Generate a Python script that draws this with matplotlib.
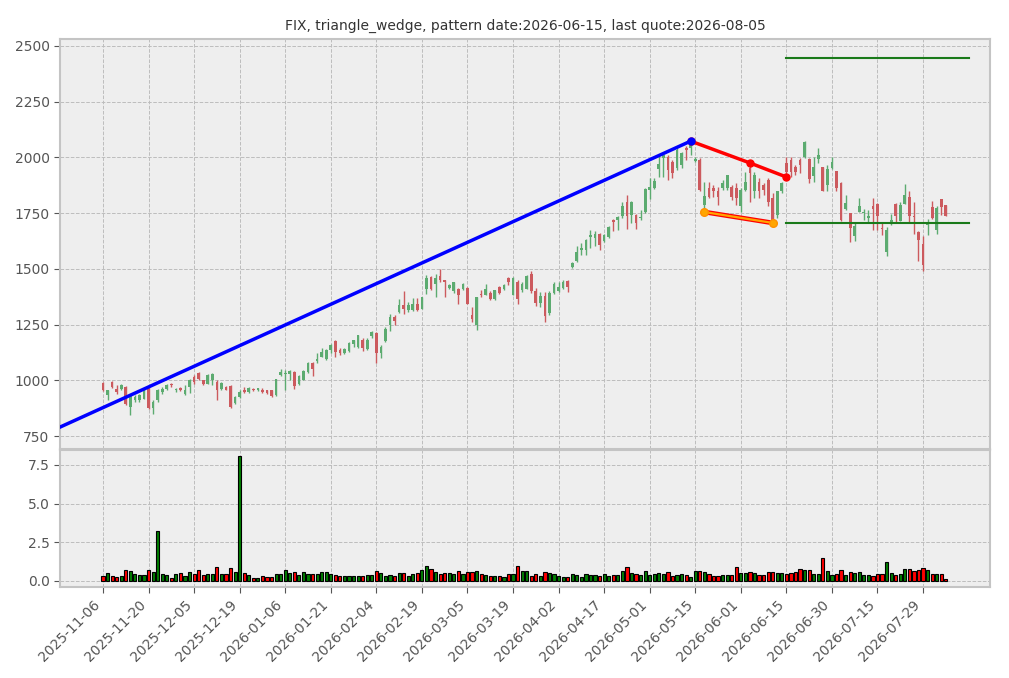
import matplotlib
matplotlib.use('Agg')
import matplotlib.pyplot as plt
import matplotlib.patheffects as pe

# ---------------- data ----------------
title = "FIX, triangle_wedge, pattern date:2026-06-15, last quote:2026-08-05"

opens = [990, 935, 993, 963, 963, 970, 881, 912, 912, 918,
         967, 874, 911, 948, 963, 985, 955, 966, 940, 970,
         1015, 1033, 1000, 985, 1000, 993, 963, 970, 973, 899,
         926, 958, 947, 963, 955, 958, 955, 955, 932, 1023,
         1030, 1027, 1038, 985, 1003, 1038, 1076, 1088, 1106, 1094,
         1136, 1177, 1136, 1121, 1133, 1164, 1151, 1182, 1139, 1197,
         1212, 1121, 1175, 1247, 1284, 1307, 1337, 1314, 1314, 1344,
         1321, 1411, 1463, 1430, 1466, 1448, 1414, 1399, 1411, 1411,
         1414, 1292, 1247, 1388, 1384, 1393, 1363, 1418, 1411, 1458,
         1384, 1443, 1403, 1411, 1478, 1400, 1345, 1380, 1300, 1390,
         1400, 1415, 1445, 1508, 1534, 1585, 1586, 1643, 1638, 1656,
         1624, 1643, 1720, 1717, 1735, 1802, 1743, 1743, 1728, 1753,
         1854, 1862, 1946, 1995, 2003, 1981, 1951, 1966, 2043, 2040,
         1985, 1988, 1787, 1862, 1862, 1847, 1862, 1862, 1869, 1862,
         1780, 1854, 1951, 1847, 1891, 1877, 1899, 1817, 1743, 1847,
         1975, 1988, 1958, 1988, 2003, 1991, 1917, 1994, 1955, 1876,
         1951, 1939, 1884, 1769, 1750, 1649, 1757, 1750, 1728, 1780,
         1792, 1683, 1574, 1706, 1790, 1713, 1792, 1822, 1739, 1664,
         1613, 1698, 1777, 1676, 1813, 1787]
highs = [993, 958, 997, 978, 982, 973, 933, 933, 940, 960,
         970, 911, 963, 970, 985, 988, 966, 970, 978, 1007,
         1022, 1037, 1003, 1030, 1033, 1000, 993, 975, 978, 930,
         955, 970, 970, 965, 967, 967, 958, 958, 1008, 1053,
         1045, 1045, 1040, 1023, 1045, 1083, 1083, 1124, 1144, 1139,
         1164, 1182, 1144, 1144, 1174, 1182, 1204, 1189, 1189, 1222,
         1215, 1159, 1237, 1299, 1292, 1366, 1399, 1351, 1370, 1370,
         1373, 1473, 1467, 1478, 1500, 1452, 1433, 1443, 1414, 1437,
         1418, 1329, 1374, 1403, 1433, 1399, 1407, 1421, 1433, 1463,
         1463, 1448, 1440, 1473, 1490, 1415, 1395, 1395, 1400, 1440,
         1440, 1448, 1450, 1530, 1601, 1616, 1634, 1676, 1668, 1661,
         1658, 1690, 1723, 1735, 1802, 1832, 1805, 1747, 1765, 1862,
         1906, 1906, 2010, 2015, 2010, 1988, 2040, 2025, 2050, 2077,
         2000, 1996, 1891, 1891, 1877, 1869, 1900, 1921, 1877, 1884,
         1862, 1936, 1975, 1936, 1906, 1884, 1906, 1840, 1847, 1891,
         2003, 2003, 1966, 1996, 2073, 1996, 2000, 2040, 1958, 1966,
         2003, 1939, 1891, 1832, 1750, 1706, 1817, 1769, 1765, 1820,
         1795, 1706, 1688, 1746, 1795, 1802, 1881, 1847, 1802, 1668,
         1649, 1723, 1806, 1780, 1813, 1787]
lows = [950, 910, 966, 940, 958, 888, 844, 905, 905, 915,
        870, 851, 903, 940, 955, 970, 948, 950, 933, 943,
        985, 1000, 978, 982, 978, 911, 958, 955, 878, 893,
        921, 942, 941, 952, 953, 942, 940, 927, 930, 1018,
        955, 1003, 962, 977, 1000, 1035, 1018, 1076, 1103, 1091,
        1121, 1106, 1114, 1118, 1129, 1151, 1144, 1133, 1136, 1189,
        1076, 1098, 1170, 1220, 1247, 1304, 1299, 1307, 1310, 1310,
        1321, 1388, 1404, 1374, 1443, 1374, 1411, 1393, 1344, 1404,
        1344, 1263, 1225, 1374, 1381, 1359, 1359, 1386, 1407, 1426,
        1381, 1344, 1396, 1408, 1392, 1335, 1330, 1262, 1292, 1385,
        1395, 1408, 1398, 1504, 1530, 1564, 1564, 1594, 1601, 1583,
        1619, 1638, 1668, 1676, 1728, 1679, 1705, 1679, 1720, 1750,
        1812, 1857, 1914, 1914, 1899, 1906, 1943, 1951, 1990, 2010,
        1978, 1847, 1755, 1817, 1824, 1787, 1855, 1855, 1810, 1787,
        1757, 1847, 1802, 1817, 1817, 1830, 1780, 1706, 1728, 1840,
        1912, 1914, 1921, 1929, 1998, 1887, 1891, 1973, 1847, 1847,
        1946, 1847, 1713, 1765, 1619, 1627, 1753, 1720, 1709, 1676,
        1676, 1650, 1557, 1696, 1710, 1713, 1792, 1706, 1657, 1534,
        1490, 1653, 1723, 1658, 1740, 1735]
closes = [957, 955, 972, 948, 978, 893, 929, 927, 933, 958,
          874, 903, 955, 963, 978, 978, 963, 958, 955, 1003,
          993, 1007, 985, 1025, 1030, 955, 988, 958, 881, 926,
          946, 947, 964, 955, 965, 947, 943, 929, 1005, 1038,
          1035, 1042, 974, 1020, 1042, 1079, 1053, 1094, 1129, 1136,
          1159, 1129, 1121, 1139, 1167, 1179, 1204, 1144, 1182, 1215,
          1121, 1151, 1230, 1284, 1266, 1339, 1322, 1337, 1341, 1314,
          1373, 1458, 1411, 1458, 1448, 1440, 1429, 1440, 1384, 1433,
          1344, 1277, 1374, 1384, 1411, 1366, 1403, 1391, 1429, 1443,
          1458, 1366, 1433, 1470, 1400, 1345, 1380, 1290, 1390, 1430,
          1420, 1440, 1420, 1527, 1576, 1595, 1631, 1653, 1656, 1609,
          1653, 1687, 1708, 1732, 1780, 1735, 1798, 1705, 1732, 1859,
          1869, 1896, 1970, 2010, 1943, 1929, 2033, 2018, 2033, 2062,
          1992, 1854, 1827, 1824, 1847, 1824, 1884, 1921, 1824, 1817,
          1854, 1891, 1929, 1921, 1847, 1854, 1802, 1713, 1847, 1884,
          1935, 1936, 1936, 1966, 2070, 1902, 1958, 2009, 1847, 1946,
          1981, 1862, 1717, 1794, 1683, 1691, 1783, 1757, 1739, 1769,
          1735, 1680, 1676, 1720, 1735, 1787, 1832, 1739, 1733, 1628,
          1519, 1708, 1728, 1772, 1777, 1738]
volumes = [0.32, 0.50, 0.32, 0.26, 0.32, 0.71, 0.65, 0.45, 0.39, 0.39,
           0.71, 0.58, 3.23, 0.45, 0.39, 0.19, 0.45, 0.52, 0.32, 0.58,
           0.45, 0.71, 0.39, 0.45, 0.45, 0.90, 0.45, 0.45, 0.84, 0.58,
           8.08, 0.50, 0.39, 0.19, 0.19, 0.32, 0.26, 0.26, 0.45, 0.45,
           0.71, 0.52, 0.58, 0.39, 0.58, 0.45, 0.45, 0.45, 0.58, 0.58,
           0.45, 0.39, 0.32, 0.32, 0.32, 0.32, 0.32, 0.32, 0.39, 0.39,
           0.65, 0.52, 0.32, 0.39, 0.32, 0.52, 0.52, 0.32, 0.45, 0.52,
           0.71, 0.97, 0.78, 0.58, 0.45, 0.52, 0.52, 0.45, 0.65, 0.45,
           0.58, 0.58, 0.65, 0.45, 0.39, 0.32, 0.32, 0.32, 0.26, 0.45,
           0.45, 0.97, 0.65, 0.65, 0.32, 0.45, 0.32, 0.58, 0.52, 0.45,
           0.32, 0.26, 0.26, 0.45, 0.39, 0.26, 0.45, 0.39, 0.39, 0.32,
           0.45, 0.32, 0.39, 0.39, 0.65, 0.90, 0.52, 0.45, 0.39, 0.65,
           0.39, 0.45, 0.52, 0.45, 0.58, 0.32, 0.39, 0.45, 0.39, 0.26,
           0.65, 0.65, 0.58, 0.45, 0.32, 0.32, 0.39, 0.39, 0.39, 0.90,
           0.52, 0.52, 0.58, 0.52, 0.39, 0.39, 0.58, 0.58, 0.52, 0.52,
           0.45, 0.52, 0.58, 0.78, 0.71, 0.71, 0.45, 0.45, 1.49, 0.65,
           0.39, 0.45, 0.71, 0.39, 0.58, 0.52, 0.58, 0.39, 0.39, 0.32,
           0.45, 0.45, 1.23, 0.52, 0.39, 0.45, 0.78, 0.78, 0.65, 0.71,
           0.84, 0.71, 0.45, 0.45, 0.45, 0.13]

tick_index = [0, 10, 20, 30, 40, 50, 60, 70, 80, 90, 100, 110, 120, 130, 140, 150, 160, 170, 180]
tick_labels = ["2025-11-06", "2025-11-20", "2025-12-05", "2025-12-19", "2026-01-06",
               "2026-01-21", "2026-02-04", "2026-02-19", "2026-03-05", "2026-03-19",
               "2026-04-02", "2026-04-17", "2026-05-01", "2026-05-15", "2026-06-01",
               "2026-06-15", "2026-06-30", "2026-07-15", "2026-07-29"]

# pattern points (bar index, price)
blue_x, blue_y = [-10, 129], [785, 2073]
red_x, red_y = [129, 142, 150], [2073, 1975, 1912]
orange_x, orange_y = [132, 147], [1755, 1706]
level_x = [150, 190]
upper_level = 2446
lower_level = 1706

# ---------------- figure ----------------
W, H = 1009, 678
fig = plt.figure(figsize=(W / 100, H / 100), dpi=100)
ax = fig.add_axes([60 / W, (H - 449) / H, 930 / W, 410 / H])
axv = fig.add_axes([60 / W, (H - 587) / H, 930 / W, 137 / H], sharex=ax)

tick_col = '#555555'
for a in (ax, axv):
    a.set_facecolor('#eeeeee')
    for s in a.spines.values():
        s.set_color('#c4c4c4')
        s.set_linewidth(1.5)
    a.grid(True, linestyle='--', color='#bdbdbd', linewidth=0.7)
    a.set_axisbelow(True)
    a.tick_params(colors=tick_col, labelsize=10, length=4, width=0.8)

up_c, dn_c = '#5cab70', '#cc5a5e'
idx = list(range(len(closes)))
cols = [up_c if c >= o else dn_c for o, c in zip(opens, closes)]
ax.vlines(idx, lows, highs, colors=cols, linewidth=1.0, zorder=2)
ax.bar(idx, [max(abs(c - o), 2) for o, c in zip(opens, closes)], width=0.6,
       bottom=[min(o, c) for o, c in zip(opens, closes)], color=cols, linewidth=0, zorder=3)

vcols = ['#008000' if c >= o else '#ff0000' for o, c in zip(opens, closes)]
axv.bar(idx, volumes, width=0.7, color=vcols, edgecolor='black', linewidth=0.8, zorder=3)

# pattern lines
ax.plot(red_x, red_y, color='red', lw=2.5, marker='o', ms=5, zorder=5)
ax.plot(blue_x, blue_y, color='blue', lw=2.5, zorder=6)
ax.plot(blue_x[-1:], blue_y[-1:], color='blue', marker='o', ms=5, zorder=7)
ax.plot(orange_x, orange_y, color='orange', lw=1.6, zorder=5,
        path_effects=[pe.Stroke(linewidth=3.4, foreground='red'), pe.Normal()])
ax.plot(orange_x, orange_y, linestyle='none', marker='o', ms=5.5,
        mfc='orange', mec='#ff9000', zorder=6)
ax.plot(level_x, [upper_level, upper_level], color='#1a7a1a', lw=1.5, zorder=5)
ax.plot(level_x, [lower_level, lower_level], color='#1a7a1a', lw=1.5, zorder=5)

ax.set_xlim(-9.44, 194.7)
ax.set_ylim(692, 2531)
ax.set_yticks([750, 1000, 1250, 1500, 1750, 2000, 2250, 2500])
ax.tick_params(axis='x', labelbottom=False, length=0)

axv.set_ylim(-0.39, 8.47)
axv.set_yticks([0, 2.5, 5.0, 7.5])
axv.set_yticklabels(['0.0', '2.5', '5.0', '7.5'])
axv.set_xticks(tick_index)
axv.set_xticklabels(tick_labels, rotation=45, ha='right')

fig.text(525 / W, 1 - 26 / H, title, ha='center', va='center', fontsize=10, color='#333333')

fig.savefig('out.png', dpi=100, facecolor='white')
